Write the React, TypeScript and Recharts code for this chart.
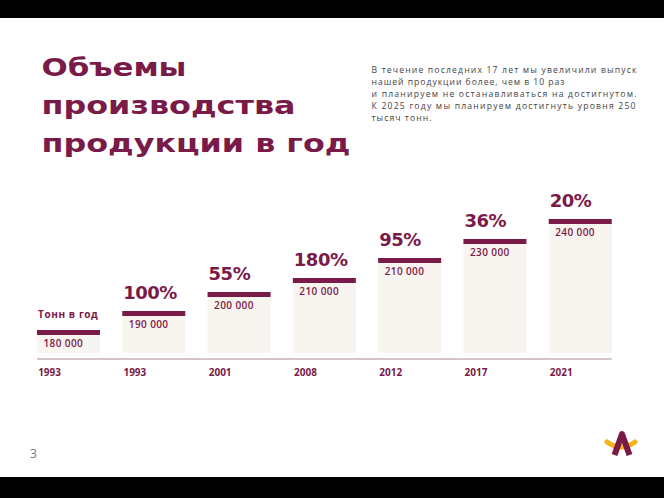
import React from 'react';
import { BarChart, Bar, XAxis, YAxis, LabelList } from 'recharts';

// values
const years = ['1993', '1993', '2001', '2008', '2012', '2017', '2021'];
const tons = [180000, 190000, 200000, 210000, 210000, 230000, 240000];
const growth = [null, 100, 55, 180, 95, 36, 20];
// bar heights as drawn on the slide (decorative steps, not tons)
const levels = [23, 42, 61, 75, 95, 114, 134];
const firstLabel = 'Тонн в год';

const titleLines = ['Объемы', 'производства', 'продукции в год'];
const noteLines = [
  'В течение последних 17 лет мы увеличили выпуск',
  'нашей продукции более, чем в 10 раз',
  'и планируем не останавливаться на достигнутом.',
  'К 2025 году мы планируем достигнуть уровня 250',
  'тысяч тонн.',
];
const noteWidths = [265, 193, 265, 264, 60];
const titleWidths = [145, 254, 309];

const data = years.map((year, i) => ({
  year,
  tons: tons[i],
  growth: growth[i],
  level: levels[i],
}));

const W = 664;
const H = 498;
const WINE = '#7a1a48';
const BEIGE = '#f8f4f0';
const BAR_W = 63;
const CAP = 5;
const margin = { top: 219, right: 41, bottom: 115, left: 26 };
const BAND = (W - margin.left - margin.right) / years.length;

const fmt = (v: number) => String(v).replace(/\B(?=(\d{3})+(?!\d))/g, ' ');

const pos = (p: any) => {
  const vb = p.viewBox ?? p;
  return { x: vb.x ?? p.x, y: vb.y ?? p.y };
};

const BarShape = (props: any) => {
  const { x, y, width, height, index } = props;
  const last = index === years.length - 1;
  const base = y + height + 6;
  return (
    <g>
      <rect x={x} y={y} width={width} height={height} fill={BEIGE} />
      <rect x={x} y={y} width={width} height={CAP} fill={WINE} />
      <line
        x1={x}
        x2={x + width + (last ? 0 : BAND - width)}
        y1={base}
        y2={base}
        stroke="#a58896"
        strokeWidth={1}
      />
    </g>
  );
};

const TonsLabel = (props: any) => {
  const { x, y } = pos(props);
  return (
    <text x={x + 6.5} y={y + 16.5} fill={WINE} fontSize={10} fontWeight={600}
      fontFamily="'Open Sans', sans-serif" letterSpacing={0.4}>
      {fmt(props.value)}
    </text>
  );
};

const GrowthLabel = (props: any) => {
  const { x, y } = pos(props);
  if (props.index === 0) {
    return (
      <text x={x + 1} y={y - 11.7} fill={WINE} fontSize={10} fontWeight={700}
        fontFamily="'Open Sans', sans-serif" letterSpacing={0.6}>
        {firstLabel}
      </text>
    );
  }
  return (
    <text x={x + 1} y={y - 12} fill={WINE} fontSize={18} fontWeight={700}
      fontFamily="'DejaVu Sans', sans-serif" letterSpacing={-0.5}>
      {props.value}%
    </text>
  );
};

const YearTick = (props: any) => {
  const { x, y, index } = props;
  return (
    <text x={x - BAR_W / 2 + 1} y={y + 23} fill={WINE} fontSize={10} fontWeight={700}
      fontFamily="'Open Sans', sans-serif">
      {years[index]}
    </text>
  );
};

export default function App() {
  return (
    <div style={{ position: 'absolute', left: 0, top: 0, width: W, height: H, background: '#fff', overflow: 'hidden' }}>
      <div style={{ position: 'absolute', left: 0, top: 0, width: W, height: 18, background: '#000' }} />
      <div style={{ position: 'absolute', left: 0, top: 477, width: W, height: 21, background: '#000' }} />
      <div style={{ position: 'absolute', left: 0, top: 0 }}>
        <BarChart width={W} height={H} data={data} margin={margin}>
          <XAxis dataKey="year" height={30} axisLine={false} tickLine={false}
            tickSize={0} tickMargin={0} interval={0} tick={<YearTick />} />
          <YAxis hide domain={[0, 134]} />
          <Bar dataKey="level" barSize={BAR_W} shape={<BarShape />} isAnimationActive={false}>
            <LabelList dataKey="tons" content={<TonsLabel />} />
            <LabelList dataKey="growth" content={<GrowthLabel />} />
          </Bar>
        </BarChart>
      </div>
      <svg width={W} height={H} style={{ position: 'absolute', left: 0, top: 0, pointerEvents: 'none' }}>
        {titleLines.map((t, i) => (
          <text key={t} x={41.5} y={76 + i * 38} fill={WINE} fontSize={25} fontWeight={700}
            fontFamily="'DejaVu Sans', sans-serif" textLength={titleWidths[i]} lengthAdjust="spacingAndGlyphs">
            {t}
          </text>
        ))}
        {noteLines.map((t, i) => (
          <text key={t} x={371.5} y={72.5 + i * 12.05} fill="#444" fontSize={8.6}
            fontFamily="'Open Sans', sans-serif" textLength={noteWidths[i]} lengthAdjust="spacing">
            {t}
          </text>
        ))}
        <text x={30} y={457.5} fill="#777" fontSize={12} fontFamily="'Open Sans', sans-serif">3</text>
        <path d="M607,442 Q621,452 635,442" fill="none" stroke="#f4b41a" strokeWidth={5} strokeLinecap="round" />
        <path d="M614.5,455 L622,434 L629.5,455" fill="none" stroke={WINE} strokeWidth={6} strokeLinejoin="round" />
      </svg>
    </div>
  );
}
